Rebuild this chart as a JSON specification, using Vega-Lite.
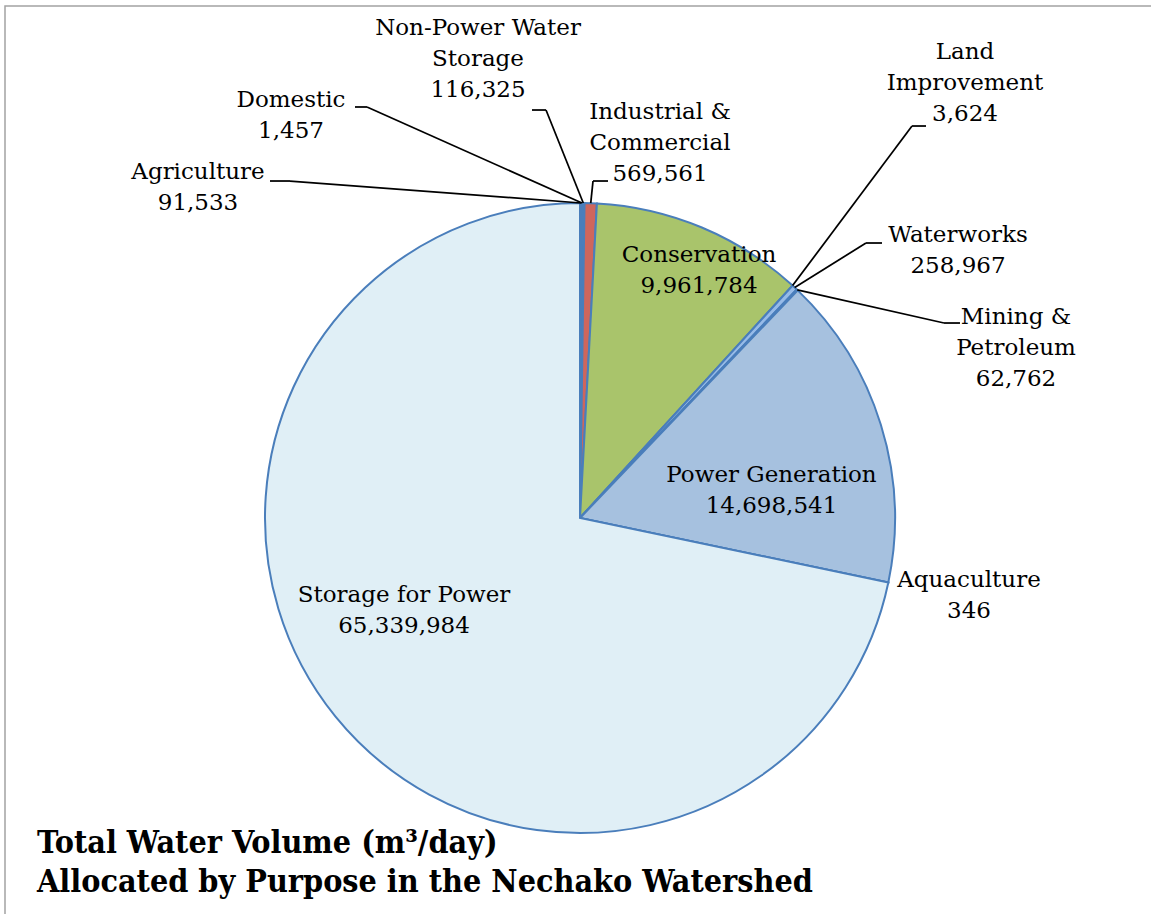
{
  "$schema": "https://vega.github.io/schema/vega-lite/v6.json",
  "width": 1150,
  "height": 1024,
  "padding": {"left": 5, "top": 6, "right": 0, "bottom": 0},
  "autosize": {"type": "none"},
  "background": "white",
  "config": {"view": {"stroke": "#A3A3A3", "strokeWidth": 1.5}},
  "title": {
    "text": ["Total Water Volume (m³/day)", "\u2002Allocated by Purpose in the Nechako Watershed"],
    "orient": "bottom", "anchor": "start", "offset": -202, "dx": 32,
    "font": "DejaVu Serif Condensed", "fontSize": 32, "fontWeight": "bold", "lineHeight": 39, "color": "black"
  },
  "data": {"values": [
    {"purpose": "Agriculture", "label": "Agriculture", "volume": 91533, "ord": 1},
    {"purpose": "Domestic", "label": "Domestic", "volume": 1457, "ord": 2},
    {"purpose": "Non-Power Water Storage", "label": "Non-Power Water\nStorage", "volume": 116325, "ord": 3},
    {"purpose": "Industrial & Commercial", "label": "Industrial &\nCommercial", "volume": 569561, "ord": 4},
    {"purpose": "Conservation", "label": "Conservation", "volume": 9961784, "ord": 5},
    {"purpose": "Land Improvement", "label": "Land\nImprovement", "volume": 3624, "ord": 6},
    {"purpose": "Waterworks", "label": "Waterworks", "volume": 258967, "ord": 7},
    {"purpose": "Mining & Petroleum", "label": "Mining &\nPetroleum", "volume": 62762, "ord": 8},
    {"purpose": "Power Generation", "label": "Power Generation", "volume": 14698541, "ord": 9},
    {"purpose": "Aquaculture", "label": "Aquaculture", "volume": 346, "ord": 10},
    {"purpose": "Storage for Power", "label": "Storage for Power", "volume": 65339984, "ord": 11}
  ]},
  "transform": [
    {"joinaggregate": [{"op": "sum", "field": "volume", "as": "total"}]},
    {"window": [{"op": "sum", "field": "volume", "as": "cum"}], "sort": [{"field": "ord", "order": "ascending"}], "frame": [null, 0]},
    {"calculate": "2*PI*(datum.cum - datum.volume/2)/datum.total", "as": "ang"},
    {"calculate": "sin(datum.ang)", "as": "ex"},
    {"calculate": "cos(datum.ang)", "as": "ey"},
    {"calculate": "datum.label + '\\n' + format(datum.volume, ',')", "as": "txt"}
  ],
  "layer": [
    {
      "mark": {"type": "arc", "radius": 315, "stroke": "#4A7EBB", "strokeWidth": 2},
      "encoding": {
        "theta": {"field": "volume", "type": "quantitative", "stack": true},
        "order": {"field": "ord", "type": "quantitative"},
        "color": {"field": "purpose", "type": "nominal", "legend": null,
          "scale": {
            "domain": ["Agriculture", "Domestic", "Non-Power Water Storage", "Industrial & Commercial", "Conservation", "Land Improvement", "Waterworks", "Mining & Petroleum", "Power Generation", "Aquaculture", "Storage for Power"],
            "range": ["#4F81BD", "#4F81BD", "#4F81BD", "#CF665C", "#A9C46B", "#4F81BD", "#97BBE8", "#4F81BD", "#A6C1DF", "#4F81BD", "#E0EFF6"]
          }}
      }
    },
    {"transform": [{"filter": "datum.purpose === 'Agriculture'"}], "mark": {"type": "rule", "color": "black", "strokeWidth": 1.75},
     "encoding": {"x": {"field": "ex", "type": "quantitative", "scale": {"domain": [-1.8254, 1.8254], "nice": false}, "axis": null}, "y": {"field": "ey", "type": "quantitative", "scale": {"domain": [-1.6254, 1.6254], "nice": false}, "axis": null}, "x2": {"datum": -0.9206}, "y2": {"datum": 1.0698}}},
    {"transform": [{"filter": "datum.purpose === 'Agriculture'"}], "mark": {"type": "rule", "color": "black", "strokeWidth": 1.75},
     "encoding": {"x": {"datum": -0.9206, "type": "quantitative", "scale": {"domain": [-1.8254, 1.8254], "nice": false}, "axis": null}, "y": {"datum": 1.0698, "type": "quantitative", "scale": {"domain": [-1.6254, 1.6254], "nice": false}, "axis": null}, "x2": {"datum": -0.9841}}},
    {"transform": [{"filter": "datum.purpose === 'Domestic'"}], "mark": {"type": "rule", "color": "black", "strokeWidth": 1.75},
     "encoding": {"x": {"field": "ex", "type": "quantitative", "scale": {"domain": [-1.8254, 1.8254], "nice": false}, "axis": null}, "y": {"field": "ey", "type": "quantitative", "scale": {"domain": [-1.6254, 1.6254], "nice": false}, "axis": null}, "x2": {"datum": -0.6762}, "y2": {"datum": 1.3048}}},
    {"transform": [{"filter": "datum.purpose === 'Domestic'"}], "mark": {"type": "rule", "color": "black", "strokeWidth": 1.75},
     "encoding": {"x": {"datum": -0.6762, "type": "quantitative", "scale": {"domain": [-1.8254, 1.8254], "nice": false}, "axis": null}, "y": {"datum": 1.3048, "type": "quantitative", "scale": {"domain": [-1.6254, 1.6254], "nice": false}, "axis": null}, "x2": {"datum": -0.7143}}},
    {"transform": [{"filter": "datum.purpose === 'Non-Power Water Storage'"}], "mark": {"type": "rule", "color": "black", "strokeWidth": 1.75},
     "encoding": {"x": {"field": "ex", "type": "quantitative", "scale": {"domain": [-1.8254, 1.8254], "nice": false}, "axis": null}, "y": {"field": "ey", "type": "quantitative", "scale": {"domain": [-1.6254, 1.6254], "nice": false}, "axis": null}, "x2": {"datum": -0.1079}, "y2": {"datum": 1.2952}}},
    {"transform": [{"filter": "datum.purpose === 'Non-Power Water Storage'"}], "mark": {"type": "rule", "color": "black", "strokeWidth": 1.75},
     "encoding": {"x": {"datum": -0.1079, "type": "quantitative", "scale": {"domain": [-1.8254, 1.8254], "nice": false}, "axis": null}, "y": {"datum": 1.2952, "type": "quantitative", "scale": {"domain": [-1.6254, 1.6254], "nice": false}, "axis": null}, "x2": {"datum": -0.1524}}},
    {"transform": [{"filter": "datum.purpose === 'Industrial & Commercial'"}], "mark": {"type": "rule", "color": "black", "strokeWidth": 1.75},
     "encoding": {"x": {"field": "ex", "type": "quantitative", "scale": {"domain": [-1.8254, 1.8254], "nice": false}, "axis": null}, "y": {"field": "ey", "type": "quantitative", "scale": {"domain": [-1.6254, 1.6254], "nice": false}, "axis": null}, "x2": {"datum": 0.0413}, "y2": {"datum": 1.0698}}},
    {"transform": [{"filter": "datum.purpose === 'Industrial & Commercial'"}], "mark": {"type": "rule", "color": "black", "strokeWidth": 1.75},
     "encoding": {"x": {"datum": 0.0413, "type": "quantitative", "scale": {"domain": [-1.8254, 1.8254], "nice": false}, "axis": null}, "y": {"datum": 1.0698, "type": "quantitative", "scale": {"domain": [-1.6254, 1.6254], "nice": false}, "axis": null}, "x2": {"datum": 0.0889}}},
    {"transform": [{"filter": "datum.purpose === 'Land Improvement'"}], "mark": {"type": "rule", "color": "black", "strokeWidth": 1.75},
     "encoding": {"x": {"field": "ex", "type": "quantitative", "scale": {"domain": [-1.8254, 1.8254], "nice": false}, "axis": null}, "y": {"field": "ey", "type": "quantitative", "scale": {"domain": [-1.6254, 1.6254], "nice": false}, "axis": null}, "x2": {"datum": 1.054}, "y2": {"datum": 1.2444}}},
    {"transform": [{"filter": "datum.purpose === 'Land Improvement'"}], "mark": {"type": "rule", "color": "black", "strokeWidth": 1.75},
     "encoding": {"x": {"datum": 1.054, "type": "quantitative", "scale": {"domain": [-1.8254, 1.8254], "nice": false}, "axis": null}, "y": {"datum": 1.2444, "type": "quantitative", "scale": {"domain": [-1.6254, 1.6254], "nice": false}, "axis": null}, "x2": {"datum": 1.0984}}},
    {"transform": [{"filter": "datum.purpose === 'Waterworks'"}], "mark": {"type": "rule", "color": "black", "strokeWidth": 1.75},
     "encoding": {"x": {"field": "ex", "type": "quantitative", "scale": {"domain": [-1.8254, 1.8254], "nice": false}, "axis": null}, "y": {"field": "ey", "type": "quantitative", "scale": {"domain": [-1.6254, 1.6254], "nice": false}, "axis": null}, "x2": {"datum": 0.9079}, "y2": {"datum": 0.873}}},
    {"transform": [{"filter": "datum.purpose === 'Waterworks'"}], "mark": {"type": "rule", "color": "black", "strokeWidth": 1.75},
     "encoding": {"x": {"datum": 0.9079, "type": "quantitative", "scale": {"domain": [-1.8254, 1.8254], "nice": false}, "axis": null}, "y": {"datum": 0.873, "type": "quantitative", "scale": {"domain": [-1.6254, 1.6254], "nice": false}, "axis": null}, "x2": {"datum": 0.9587}}},
    {"transform": [{"filter": "datum.purpose === 'Mining & Petroleum'"}], "mark": {"type": "rule", "color": "black", "strokeWidth": 1.75},
     "encoding": {"x": {"field": "ex", "type": "quantitative", "scale": {"domain": [-1.8254, 1.8254], "nice": false}, "axis": null}, "y": {"field": "ey", "type": "quantitative", "scale": {"domain": [-1.6254, 1.6254], "nice": false}, "axis": null}, "x2": {"datum": 1.1556}, "y2": {"datum": 0.619}}},
    {"transform": [{"filter": "datum.purpose === 'Mining & Petroleum'"}], "mark": {"type": "rule", "color": "black", "strokeWidth": 1.75},
     "encoding": {"x": {"datum": 1.1556, "type": "quantitative", "scale": {"domain": [-1.8254, 1.8254], "nice": false}, "axis": null}, "y": {"datum": 0.619, "type": "quantitative", "scale": {"domain": [-1.6254, 1.6254], "nice": false}, "axis": null}, "x2": {"datum": 1.2063}}},
    {"transform": [{"filter": "datum.purpose === 'Agriculture'"}], "mark": {"type": "text", "font": "DejaVu Serif", "fontSize": 23, "lineHeight": 31, "lineBreak": "\n", "align": "center", "baseline": "middle", "color": "black"},
     "encoding": {"x": {"datum": -1.2127, "type": "quantitative", "scale": {"domain": [-1.8254, 1.8254], "nice": false}, "axis": null}, "y": {"datum": 1.0984, "type": "quantitative", "scale": {"domain": [-1.6254, 1.6254], "nice": false}, "axis": null}, "text": {"field": "txt", "type": "nominal"}}},
    {"transform": [{"filter": "datum.purpose === 'Domestic'"}], "mark": {"type": "text", "font": "DejaVu Serif", "fontSize": 23, "lineHeight": 31, "lineBreak": "\n", "align": "center", "baseline": "middle", "color": "black"},
     "encoding": {"x": {"datum": -0.9175, "type": "quantitative", "scale": {"domain": [-1.8254, 1.8254], "nice": false}, "axis": null}, "y": {"datum": 1.327, "type": "quantitative", "scale": {"domain": [-1.6254, 1.6254], "nice": false}, "axis": null}, "text": {"field": "txt", "type": "nominal"}}},
    {"transform": [{"filter": "datum.purpose === 'Non-Power Water Storage'"}], "mark": {"type": "text", "font": "DejaVu Serif", "fontSize": 23, "lineHeight": 31, "lineBreak": "\n", "align": "center", "baseline": "middle", "color": "black"},
     "encoding": {"x": {"datum": -0.3238, "type": "quantitative", "scale": {"domain": [-1.8254, 1.8254], "nice": false}, "axis": null}, "y": {"datum": 1.5556, "type": "quantitative", "scale": {"domain": [-1.6254, 1.6254], "nice": false}, "axis": null}, "text": {"field": "txt", "type": "nominal"}}},
    {"transform": [{"filter": "datum.purpose === 'Industrial & Commercial'"}], "mark": {"type": "text", "font": "DejaVu Serif", "fontSize": 23, "lineHeight": 31, "lineBreak": "\n", "align": "center", "baseline": "middle", "color": "black"},
     "encoding": {"x": {"datum": 0.254, "type": "quantitative", "scale": {"domain": [-1.8254, 1.8254], "nice": false}, "axis": null}, "y": {"datum": 1.2889, "type": "quantitative", "scale": {"domain": [-1.6254, 1.6254], "nice": false}, "axis": null}, "text": {"field": "txt", "type": "nominal"}}},
    {"transform": [{"filter": "datum.purpose === 'Conservation'"}], "mark": {"type": "text", "font": "DejaVu Serif", "fontSize": 23, "lineHeight": 31, "lineBreak": "\n", "align": "center", "baseline": "middle", "color": "black"},
     "encoding": {"x": {"datum": 0.3778, "type": "quantitative", "scale": {"domain": [-1.8254, 1.8254], "nice": false}, "axis": null}, "y": {"datum": 0.8349, "type": "quantitative", "scale": {"domain": [-1.6254, 1.6254], "nice": false}, "axis": null}, "text": {"field": "txt", "type": "nominal"}}},
    {"transform": [{"filter": "datum.purpose === 'Land Improvement'"}], "mark": {"type": "text", "font": "DejaVu Serif", "fontSize": 23, "lineHeight": 31, "lineBreak": "\n", "align": "center", "baseline": "middle", "color": "black"},
     "encoding": {"x": {"datum": 1.2222, "type": "quantitative", "scale": {"domain": [-1.8254, 1.8254], "nice": false}, "axis": null}, "y": {"datum": 1.4794, "type": "quantitative", "scale": {"domain": [-1.6254, 1.6254], "nice": false}, "axis": null}, "text": {"field": "txt", "type": "nominal"}}},
    {"transform": [{"filter": "datum.purpose === 'Waterworks'"}], "mark": {"type": "text", "font": "DejaVu Serif", "fontSize": 23, "lineHeight": 31, "lineBreak": "\n", "align": "center", "baseline": "middle", "color": "black"},
     "encoding": {"x": {"datum": 1.2, "type": "quantitative", "scale": {"domain": [-1.8254, 1.8254], "nice": false}, "axis": null}, "y": {"datum": 0.8984, "type": "quantitative", "scale": {"domain": [-1.6254, 1.6254], "nice": false}, "axis": null}, "text": {"field": "txt", "type": "nominal"}}},
    {"transform": [{"filter": "datum.purpose === 'Mining & Petroleum'"}], "mark": {"type": "text", "font": "DejaVu Serif", "fontSize": 23, "lineHeight": 31, "lineBreak": "\n", "align": "center", "baseline": "middle", "color": "black"},
     "encoding": {"x": {"datum": 1.3841, "type": "quantitative", "scale": {"domain": [-1.8254, 1.8254], "nice": false}, "axis": null}, "y": {"datum": 0.6381, "type": "quantitative", "scale": {"domain": [-1.6254, 1.6254], "nice": false}, "axis": null}, "text": {"field": "txt", "type": "nominal"}}},
    {"transform": [{"filter": "datum.purpose === 'Power Generation'"}], "mark": {"type": "text", "font": "DejaVu Serif", "fontSize": 23, "lineHeight": 31, "lineBreak": "\n", "align": "center", "baseline": "middle", "color": "black"},
     "encoding": {"x": {"datum": 0.6079, "type": "quantitative", "scale": {"domain": [-1.8254, 1.8254], "nice": false}, "axis": null}, "y": {"datum": 0.1365, "type": "quantitative", "scale": {"domain": [-1.6254, 1.6254], "nice": false}, "axis": null}, "text": {"field": "txt", "type": "nominal"}}},
    {"transform": [{"filter": "datum.purpose === 'Aquaculture'"}], "mark": {"type": "text", "font": "DejaVu Serif", "fontSize": 23, "lineHeight": 31, "lineBreak": "\n", "align": "center", "baseline": "middle", "color": "black"},
     "encoding": {"x": {"datum": 1.2349, "type": "quantitative", "scale": {"domain": [-1.8254, 1.8254], "nice": false}, "axis": null}, "y": {"datum": -0.1968, "type": "quantitative", "scale": {"domain": [-1.6254, 1.6254], "nice": false}, "axis": null}, "text": {"field": "txt", "type": "nominal"}}},
    {"transform": [{"filter": "datum.purpose === 'Storage for Power'"}], "mark": {"type": "text", "font": "DejaVu Serif", "fontSize": 23, "lineHeight": 31, "lineBreak": "\n", "align": "center", "baseline": "middle", "color": "black"},
     "encoding": {"x": {"datum": -0.5587, "type": "quantitative", "scale": {"domain": [-1.8254, 1.8254], "nice": false}, "axis": null}, "y": {"datum": -0.2444, "type": "quantitative", "scale": {"domain": [-1.6254, 1.6254], "nice": false}, "axis": null}, "text": {"field": "txt", "type": "nominal"}}}
  ]
}
